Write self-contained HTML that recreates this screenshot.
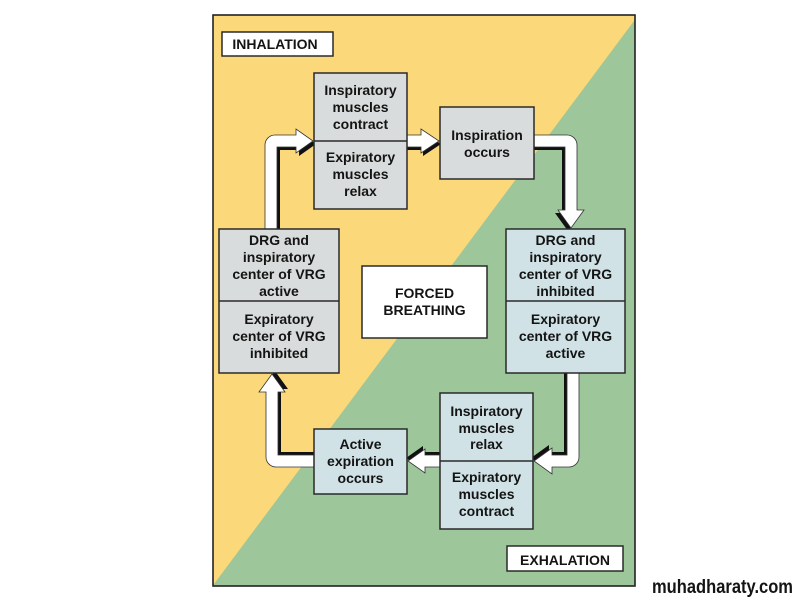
<!DOCTYPE html>
<html>
<head>
<meta charset="utf-8">
<style>
  html,body{margin:0;padding:0;background:#fff;}
  svg{display:block;}
  text{font-family:"Liberation Sans",Arial,sans-serif;font-weight:bold;fill:#141414;}
</style>
</head>
<body>
<svg width="801" height="601" viewBox="0 0 801 601" xmlns="http://www.w3.org/2000/svg">
  <rect x="0" y="0" width="801" height="601" fill="#ffffff"/>
  <!-- background panels -->
  <rect x="213" y="15" width="422" height="571" fill="#fbd97a"/>
  <polygon points="635,19.6 635,586 212.5,586" fill="#9dc69b"/>
  <rect x="213" y="15" width="422" height="571" fill="none" stroke="#222" stroke-width="1.6"/>

  <!-- arrows: shadows -->
  <g fill="#111">
    <path transform="translate(3,3)" d="M265,232 L265,145 A10,10 0 0 1 275,135 L296,135 L296,129 L313,141 L296,153 L296,147 L277,147 L277,232 Z"/>
    <path transform="translate(2,3)" d="M405,135 L421,135 L421,129 L439,141 L421,153 L421,147 L405,147 Z"/>
    <path transform="translate(-3,3)" d="M532,135 L567,135 A10,10 0 0 1 577,145 L577,210 L584,210 L571,228 L558,210 L565,210 L565,147 L532,147 Z"/>
    <path transform="translate(-3,-3)" d="M567,370 L579,370 L579,457 A10,10 0 0 1 569,467 L552,467 L552,474 L534,461 L552,448 L552,455 L567,455 Z"/>
    <path transform="translate(-2,-3)" d="M442,455 L425,455 L425,449 L408,461 L425,473 L425,467 L442,467 Z"/>
    <path transform="translate(3,-3)" d="M316,467 L276,467 A10,10 0 0 1 266,457 L266,392 L259,392 L272,374 L285,392 L278,392 L278,455 L316,455 Z"/>
  </g>
  <!-- arrows: white bodies -->
  <g fill="#ffffff" stroke="#333" stroke-width="0.8" stroke-linejoin="miter">
    <path d="M265,232 L265,145 A10,10 0 0 1 275,135 L296,135 L296,129 L313,141 L296,153 L296,147 L277,147 L277,232 Z"/>
    <path d="M405,135 L421,135 L421,129 L439,141 L421,153 L421,147 L405,147 Z"/>
    <path d="M532,135 L567,135 A10,10 0 0 1 577,145 L577,210 L584,210 L571,228 L558,210 L565,210 L565,147 L532,147 Z"/>
    <path d="M567,370 L579,370 L579,457 A10,10 0 0 1 569,467 L552,467 L552,474 L534,461 L552,448 L552,455 L567,455 Z"/>
    <path d="M442,455 L425,455 L425,449 L408,461 L425,473 L425,467 L442,467 Z"/>
    <path d="M316,467 L276,467 A10,10 0 0 1 266,457 L266,392 L259,392 L272,374 L285,392 L278,392 L278,455 L316,455 Z"/>
  </g>

  <!-- boxes -->
  <g stroke="#2a2a2a" stroke-width="1.5">
    <!-- labels -->
    <rect x="222" y="32" width="111" height="24" fill="#ffffff"/>
    <rect x="507" y="546" width="116" height="25" fill="#ffffff"/>
    <!-- box1 -->
    <rect x="314" y="73" width="93" height="136" fill="#d9dcdc"/>
    <line x1="314" y1="141" x2="407" y2="141"/>
    <!-- inspiration occurs -->
    <rect x="440" y="107" width="94" height="72" fill="#d9dcdc"/>
    <!-- left box -->
    <rect x="219" y="229" width="120" height="144" fill="#d9dcdc"/>
    <line x1="219" y1="301" x2="339" y2="301"/>
    <!-- right box -->
    <rect x="506" y="229" width="119" height="144" fill="#d0e2e6"/>
    <line x1="506" y1="301" x2="625" y2="301"/>
    <!-- forced breathing -->
    <rect x="362" y="266" width="125" height="72" fill="#ffffff"/>
    <!-- bottom right box -->
    <rect x="440" y="393" width="93" height="136" fill="#d0e2e6"/>
    <line x1="440" y1="461" x2="533" y2="461"/>
    <!-- active expiration -->
    <rect x="314" y="429" width="93" height="65" fill="#d0e2e6"/>
  </g>

  <!-- text -->
  <g font-size="14" text-anchor="middle">
    <text x="275" y="49">INHALATION</text>
    <text x="565" y="565">EXHALATION</text>

    <text x="360.5" y="95">Inspiratory</text>
    <text x="360.5" y="112">muscles</text>
    <text x="360.5" y="129">contract</text>
    <text x="360.5" y="162">Expiratory</text>
    <text x="360.5" y="179">muscles</text>
    <text x="360.5" y="196">relax</text>

    <text x="487" y="140">Inspiration</text>
    <text x="487" y="157">occurs</text>

    <text x="279" y="245">DRG and</text>
    <text x="279" y="262">inspiratory</text>
    <text x="279" y="279">center of VRG</text>
    <text x="279" y="296">active</text>
    <text x="279" y="324">Expiratory</text>
    <text x="279" y="341">center of VRG</text>
    <text x="279" y="358">inhibited</text>

    <text x="565.5" y="245">DRG and</text>
    <text x="565.5" y="262">inspiratory</text>
    <text x="565.5" y="279">center of VRG</text>
    <text x="565.5" y="296">inhibited</text>
    <text x="565.5" y="324">Expiratory</text>
    <text x="565.5" y="341">center of VRG</text>
    <text x="565.5" y="358">active</text>

    <text x="424.5" y="298">FORCED</text>
    <text x="424.5" y="315">BREATHING</text>

    <text x="486.5" y="416">Inspiratory</text>
    <text x="486.5" y="433">muscles</text>
    <text x="486.5" y="449">relax</text>
    <text x="486.5" y="482">Expiratory</text>
    <text x="486.5" y="499">muscles</text>
    <text x="486.5" y="516">contract</text>

    <text x="360.5" y="449">Active</text>
    <text x="360.5" y="466">expiration</text>
    <text x="360.5" y="483">occurs</text>
  </g>

  <!-- watermark -->
  <text x="652" y="593" font-size="19" textLength="141" lengthAdjust="spacingAndGlyphs" fill="#1a1a1a">muhadharaty.com</text>
</svg>
</body>
</html>
